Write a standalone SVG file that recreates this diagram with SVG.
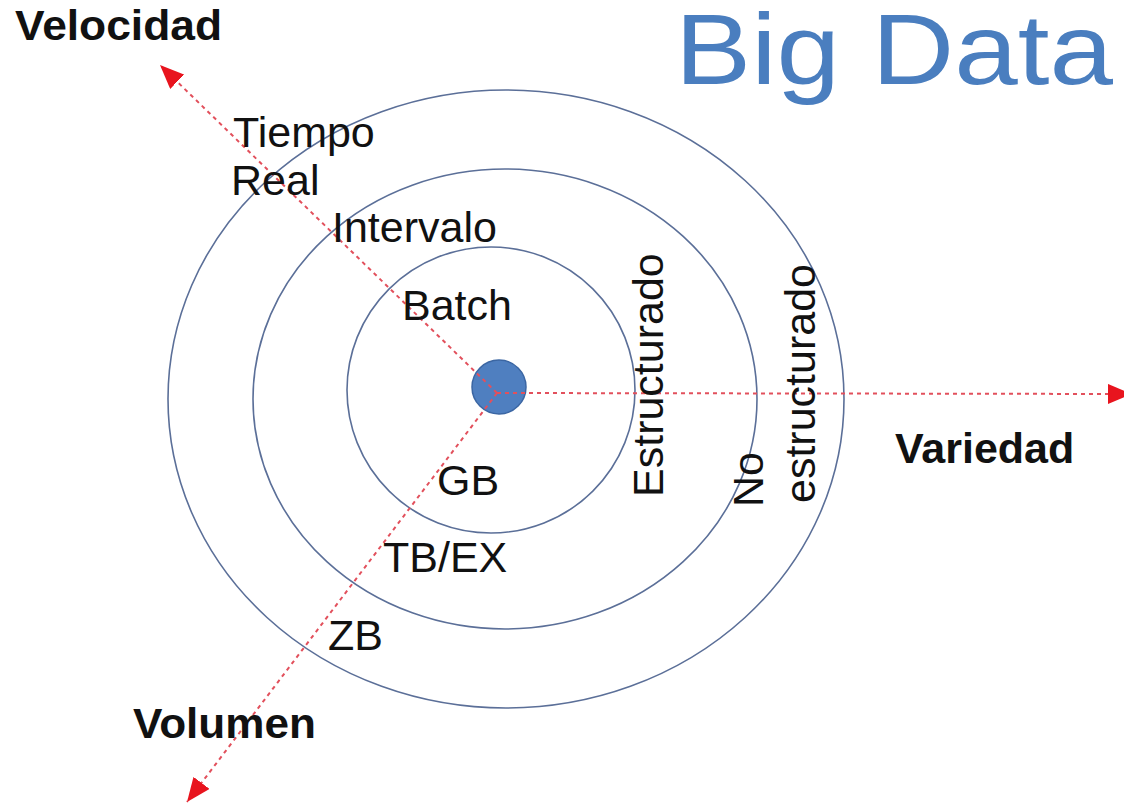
<svg xmlns="http://www.w3.org/2000/svg" width="1124" height="805" viewBox="0 0 1124 805">
  <style>
    .ring { fill: none; stroke: #5b6f98; stroke-width: 1.6; }
    .axis { fill: none; stroke: #e2505c; stroke-width: 2; stroke-dasharray: 4 4; }
    .lbl { font-family: "Liberation Sans", Arial, sans-serif; font-size: 43px; fill: #111; }
    .ax { font-family: "Liberation Sans", Arial, sans-serif; font-size: 43px; font-weight: bold; fill: #111; }
    .title { font-family: "Liberation Sans", Arial, sans-serif; font-size: 100px; fill: #4a7ebf; }
  </style>
  <defs>
    <marker id="arrow" viewBox="0 0 24 20" refX="24" refY="10" markerWidth="24" markerHeight="20" markerUnits="userSpaceOnUse" orient="auto">
      <path d="M0,0 L24,10 L0,20 z" fill="#e8141e"/>
    </marker>
  </defs>
  <rect width="1124" height="805" fill="#ffffff"/>

  <g id="title"><text class="title" x="675" y="84" textLength="438" lengthAdjust="spacingAndGlyphs">Big Data</text></g>

  <g id="rings">
    <ellipse id="ring-outer" class="ring" cx="506" cy="399" rx="338" ry="309"/>
    <ellipse id="ring-middle" class="ring" cx="505" cy="399" rx="252" ry="230"/>
    <ellipse id="ring-inner" class="ring" cx="491" cy="390" rx="144" ry="143"/>
  </g>

  <g id="center"><circle cx="499" cy="387" r="27" fill="#4f7fc0" stroke="#3b66a3" stroke-width="1.5"/></g>

  <g id="connectors">
    <line class="axis" x1="497" y1="393" x2="160" y2="65" marker-end="url(#arrow)"/>
    <line class="axis" x1="497" y1="393" x2="1132" y2="394" marker-end="url(#arrow)"/>
    <line class="axis" x1="497" y1="393" x2="187" y2="802" marker-end="url(#arrow)"/>
  </g>

  <g id="axis-labels">
    <text id="velocidad" class="ax" x="15" y="40" textLength="207" lengthAdjust="spacingAndGlyphs">Velocidad</text>
    <text id="variedad" class="ax" x="895" y="463">Variedad</text>
    <text id="volumen" class="ax" x="133" y="738" textLength="183" lengthAdjust="spacingAndGlyphs">Volumen</text>
  </g>

  <g id="speed-labels">
    <text class="lbl" x="233" y="147">Tiempo</text>
    <text class="lbl" x="231" y="195">Real</text>
    <text class="lbl" x="332" y="242">Intervalo</text>
    <text class="lbl" x="402" y="320">Batch</text>
  </g>

  <g id="volume-labels">
    <text class="lbl" x="437" y="495">GB</text>
    <text class="lbl" x="383" y="572">TB/EX</text>
    <text class="lbl" x="328" y="650">ZB</text>
  </g>

  <g id="variety-labels">
    <text class="lbl" transform="translate(663,497) rotate(-90)">Estructurado</text>
    <text class="lbl" transform="translate(763,507) rotate(-90)">No</text>
    <text class="lbl" transform="translate(815,503) rotate(-90)">estructurado</text>
  </g>
</svg>
